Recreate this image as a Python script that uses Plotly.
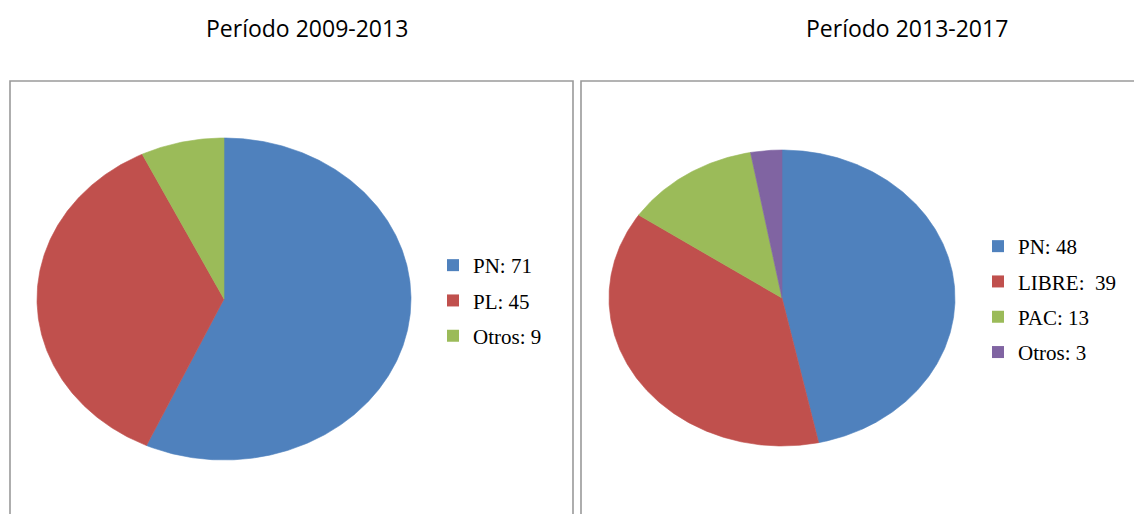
import numpy as np
import plotly.graph_objects as go

# ---- data ----
title_left = "Período 2009-2013"
title_right = "Período 2013-2017"
labels_left = ["PN", "PL", "Otros"]
values_left = [71, 45, 9]
labels_right = ["PN", "LIBRE", "PAC", "Otros"]
values_right = [48, 39, 13, 3]
colors_left = ["#4F81BD", "#C0504D", "#9BBB59"]
colors_right = ["#4F81BD", "#C0504D", "#9BBB59", "#8064A2"]

W, H = 1134, 514
fig = go.Figure()


def add_pie(values, labels, colors, xa, ya, legend):
    total = float(sum(values))
    cum = np.concatenate([[0.0], np.cumsum(values)]) / total
    for i, (lab, val, col) in enumerate(zip(labels, values, colors)):
        a0 = np.pi / 2 - 2 * np.pi * cum[i]
        a1 = np.pi / 2 - 2 * np.pi * cum[i + 1]
        n = max(int(abs(a1 - a0) / 0.01), 4)
        t = np.linspace(a0, a1, n)
        xs = np.concatenate([[0.0], np.cos(t), [0.0]])
        ys = np.concatenate([[0.0], np.sin(t), [0.0]])
        fig.add_trace(go.Scatter(
            x=xs, y=ys, mode="lines", fill="toself", fillcolor=col,
            line=dict(color=col, width=0.6), xaxis=xa, yaxis=ya,
            showlegend=False, hoverinfo="skip"))
    for i, (lab, val, col) in enumerate(zip(labels, values, colors)):
        sep = ":  " if lab == "LIBRE" else ": "
        fig.add_trace(go.Scatter(
            x=[None], y=[None], mode="markers",
            marker=dict(symbol="square", size=12, color=col),
            name=f"{lab}{sep}{val}", legend=legend, legendgroup=f"{legend}{i}",
            xaxis=xa, yaxis=ya, showlegend=True))


add_pie(values_left, labels_left, colors_left, "x", "y", "legend")
add_pie(values_right, labels_right, colors_right, "x2", "y2", "legend2")


def axis_setup(px0, px1, cx, rx, py_top, py_bot, cy, ry):
    xdom = [px0 / W, px1 / W]
    xr = [-(cx - px0) / rx, (px1 - cx) / rx]
    ydom = [1 - py_bot / H, 1 - py_top / H]
    yr = [-(py_bot - cy) / ry, (cy - py_top) / ry]
    return xdom, xr, ydom, yr


common = dict(showgrid=False, zeroline=False, showticklabels=False,
              ticks="", showline=False, fixedrange=True)

xd, xr, yd, yr = axis_setup(10, 573, 224, 187, 81, 514, 299, 161)
xd2, xr2, yd2, yr2 = axis_setup(581, 1134, 782, 173, 81, 514, 298, 148)

legend_font = dict(family="Liberation Serif", size=21, color="black")

fig.update_layout(
    width=W, height=H, margin=dict(l=0, r=0, t=0, b=0),
    paper_bgcolor="white", plot_bgcolor="white",
    xaxis=dict(domain=xd, range=xr, **common),
    yaxis=dict(domain=yd, range=yr, **common),
    xaxis2=dict(domain=xd2, range=xr2, anchor="y2", **common),
    yaxis2=dict(domain=yd2, range=yr2, anchor="x2", **common),
    legend=dict(x=433 / W, y=1 - 245 / H, xanchor="left", yanchor="top",
                font=legend_font, tracegroupgap=5, bgcolor="rgba(0,0,0,0)"),
    legend2=dict(x=978 / W, y=1 - 226 / H, xanchor="left", yanchor="top",
                 font=legend_font, tracegroupgap=5, bgcolor="rgba(0,0,0,0)"),
    shapes=[
        dict(type="rect", xref="paper", yref="paper",
             x0=10 / W, x1=573 / W, y0=-0.1, y1=1 - 81 / H,
             line=dict(color="#9a9a9a", width=1.6), layer="below"),
        dict(type="rect", xref="paper", yref="paper",
             x0=581 / W, x1=1.1, y0=-0.1, y1=1 - 81 / H,
             line=dict(color="#9a9a9a", width=1.6), layer="below"),
    ],
    annotations=[
        dict(text=title_left, x=307 / W, y=1 - 28 / H, xref="paper", yref="paper",
             showarrow=False, xanchor="center", yanchor="middle",
             font=dict(family="Open Sans", size=23, color="black")),
        dict(text=title_right, x=907 / W, y=1 - 28 / H, xref="paper", yref="paper",
             showarrow=False, xanchor="center", yanchor="middle",
             font=dict(family="Open Sans", size=23, color="black")),
    ],
)

fig.write_html(
    "out.html",
    config={"displayModeBar": False},
    post_script="document.body.style.margin='0';document.body.style.overflow='hidden';",
)
